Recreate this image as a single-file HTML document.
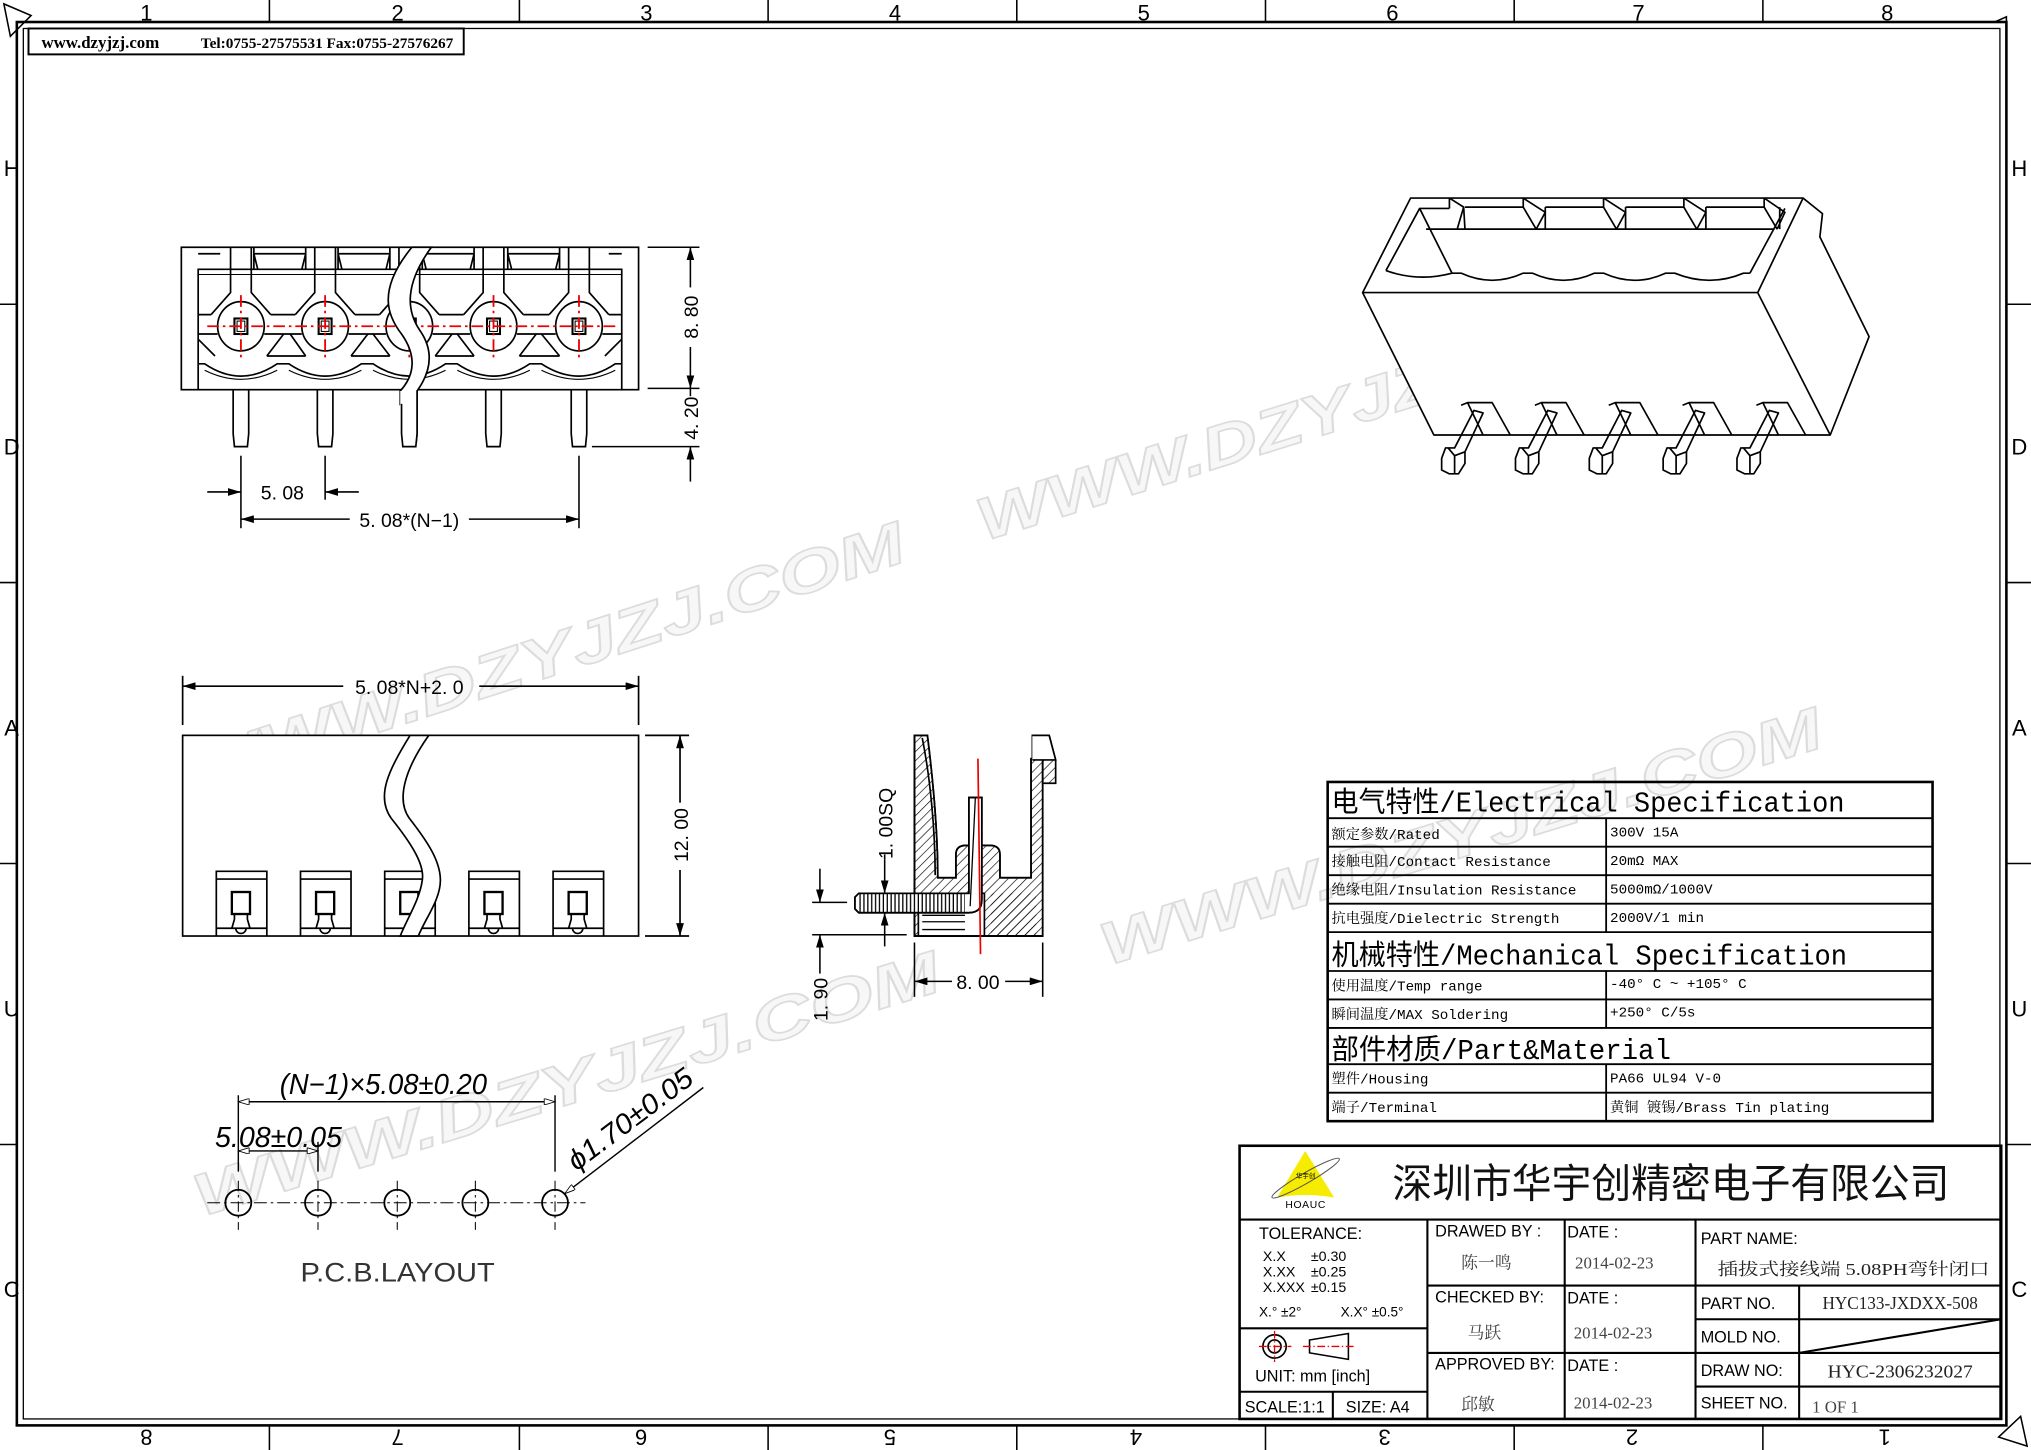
<!DOCTYPE html>
<html><head><meta charset="utf-8"><style>
html,body{margin:0;padding:0;background:#fff;}
svg{display:block;}
.sans{font-family:"Liberation Sans","Noto Sans CJK SC",sans-serif;}
.mono{font-family:"Liberation Mono","Noto Sans CJK SC",monospace;}
.rowt{font-family:"Liberation Mono","Noto Serif CJK SC",monospace;}
.serif{font-family:"Liberation Serif","Noto Serif CJK SC",serif;}
</style></head><body>
<svg width="2031" height="1450" viewBox="0 0 1568 1120" preserveAspectRatio="none" xmlns="http://www.w3.org/2000/svg" class="sans">
<defs>
<marker id="ar" viewBox="0 0 10 6" refX="10" refY="3" markerWidth="10" markerHeight="6" orient="auto-start-reverse" markerUnits="userSpaceOnUse"><path d="M0,0 L10,3 L0,6 Z" fill="#000"/></marker>
<marker id="ao" viewBox="0 0 10 6" refX="10" refY="3" markerWidth="10" markerHeight="5" orient="auto-start-reverse" markerUnits="userSpaceOnUse"><path d="M0,0 L10,3 L0,6 Z" fill="#fff" stroke="#000" stroke-width="0.8"/></marker>
<pattern id="hat" width="5" height="5" patternUnits="userSpaceOnUse" patternTransform="rotate(45)"><line x1="0" y1="0" x2="0" y2="5" stroke="#000" stroke-width="1"/></pattern>
<pattern id="vh" width="3" height="10" patternUnits="userSpaceOnUse"><line x1="1" y1="0" x2="1" y2="10" stroke="#000" stroke-width="1"/></pattern>
</defs>
<rect width="1568" height="1120" fill="#fff"/>

<!-- watermarks -->
<g style="font-family:'Liberation Sans',sans-serif" font-weight="bold" font-style="italic" font-size="46" fill="#f7f7f7" stroke="#dcdcdc" stroke-width="1.3">
<text transform="translate(760,418) rotate(-17.4)" textLength="560" lengthAdjust="spacingAndGlyphs">WWW.DZYJZJ.COM</text>
<text transform="translate(150,612) rotate(-18)" textLength="580" lengthAdjust="spacingAndGlyphs">WWW.DZYJZJ.COM</text>
<text transform="translate(855,746) rotate(-17)" textLength="580" lengthAdjust="spacingAndGlyphs">WWW.DZYJZJ.COM</text>
<text transform="translate(155,940) rotate(-17)" textLength="600" lengthAdjust="spacingAndGlyphs">WWW.DZYJZJ.COM</text>
</g>

<!-- frame -->
<g fill="none" stroke="#000">
<rect x="13" y="17" width="1536" height="1084" stroke-width="2"/>
<rect x="18" y="22" width="1526" height="1074" stroke-width="1"/>
<g stroke-width="1.2">
<line x1="208" y1="0" x2="208" y2="17"/><line x1="401" y1="0" x2="401" y2="17"/><line x1="593" y1="0" x2="593" y2="17"/><line x1="785" y1="0" x2="785" y2="17"/><line x1="977" y1="0" x2="977" y2="17"/><line x1="1169" y1="0" x2="1169" y2="17"/><line x1="1361" y1="0" x2="1361" y2="17"/>
<line x1="208" y1="1101" x2="208" y2="1120"/><line x1="401" y1="1101" x2="401" y2="1120"/><line x1="593" y1="1101" x2="593" y2="1120"/><line x1="785" y1="1101" x2="785" y2="1120"/><line x1="977" y1="1101" x2="977" y2="1120"/><line x1="1169" y1="1101" x2="1169" y2="1120"/><line x1="1361" y1="1101" x2="1361" y2="1120"/>
<line x1="0" y1="235" x2="13" y2="235"/><line x1="0" y1="450" x2="13" y2="450"/><line x1="0" y1="667" x2="13" y2="667"/><line x1="0" y1="884" x2="13" y2="884"/>
<line x1="1549" y1="235" x2="1568" y2="235"/><line x1="1549" y1="450" x2="1568" y2="450"/><line x1="1549" y1="667" x2="1568" y2="667"/><line x1="1549" y1="884" x2="1568" y2="884"/>
<path d="M3,3 L24,12 L8,28 Z"/>
<path d="M1565,1117 L1543,1110 L1560,1094 Z"/>
<path d="M1540,17 L1549,13 L1549,22"/>
</g>
</g>
<g font-size="17" text-anchor="middle" fill="#000">
<text x="113" y="16">1</text><text x="307" y="16">2</text><text x="499" y="16">3</text><text x="691" y="16">4</text><text x="883" y="16">5</text><text x="1075" y="16">6</text><text x="1265" y="16">7</text><text x="1457" y="16">8</text>
<text x="9" y="136">H</text><text x="9" y="351">D</text><text x="9" y="568">A</text><text x="9" y="785">U</text><text x="9" y="1002">C</text>
<text x="1559" y="136">H</text><text x="1559" y="351">D</text><text x="1559" y="568">A</text><text x="1559" y="785">U</text><text x="1559" y="1002">C</text>
<text transform="translate(113,1104) rotate(180)">8</text><text transform="translate(307,1104) rotate(180)">7</text><text transform="translate(495,1104) rotate(180)">6</text><text transform="translate(687,1104) rotate(180)">5</text><text transform="translate(877,1104) rotate(180)">4</text><text transform="translate(1069,1104) rotate(180)">3</text><text transform="translate(1260,1104) rotate(180)">2</text><text transform="translate(1455,1104) rotate(180)">1</text>
</g>

<!-- header -->
<rect x="22" y="22" width="336" height="20" fill="#fff" stroke="#000" stroke-width="1.5"/>
<text x="32" y="37" class="serif" font-weight="bold" font-size="13">www.dzyjzj.com</text>
<text x="155" y="37" class="serif" font-weight="bold" font-size="11" textLength="195" lengthAdjust="spacingAndGlyphs">Tel:0755-27575531  Fax:0755-27576267</text>

<!-- FRONT VIEW -->
<g fill="none" stroke="#000" stroke-width="1.3">
<rect x="140" y="191" width="353" height="110" fill="#fff"/>
<polyline points="153,301 153,208 480,208 480,301"/>
<line x1="153" y1="212" x2="480" y2="212" stroke-width="0.8"/>
<path d="M196,191 V208 M236,191 V208 M196,196 H236 M196,196 L199,208 M236,196 L233,208"/>
<path d="M261,191 V208 M301,191 V208 M261,196 H301 M261,196 L264,208 M301,196 L298,208"/>
<path d="M326,191 V208 M366,191 V208 M326,196 H366 M326,196 L329,208 M366,196 L363,208"/>
<path d="M392,191 V208 M432,191 V208 M392,196 H432 M392,196 L395,208 M432,196 L429,208"/>
<path d="M153,196 H170 M470,196 H480"/>
<!-- pin 186 -->
<path d="M178,191 V226 L163,243 M194,191 V226 L209,243"/>
<ellipse cx="186" cy="252" rx="18" ry="19"/>
<rect x="181" y="246" width="10" height="12" stroke-width="1.6"/><rect x="183" y="248" width="6" height="8" stroke-width="0.8"/>
<path d="M180,301 V335 L181,345 H191 L192,335 V301"/>
<path d="M243,191 V226 L228,243 M259,191 V226 L274,243"/>
<ellipse cx="251" cy="252" rx="18" ry="19"/>
<rect x="246" y="246" width="10" height="12" stroke-width="1.6"/><rect x="248" y="248" width="6" height="8" stroke-width="0.8"/>
<path d="M245,301 V335 L246,345 H256 L257,335 V301"/>
<path d="M308,191 V226 L293,243 M324,191 V226 L339,243"/>
<ellipse cx="316" cy="252" rx="18" ry="19"/>
<rect x="311" y="246" width="10" height="12" stroke-width="1.6"/>
<path d="M310,301 V335 L311,345 H321 L322,335 V301"/>
<path d="M373,191 V226 L358,243 M389,191 V226 L404,243"/>
<ellipse cx="381" cy="252" rx="18" ry="19"/>
<rect x="376" y="246" width="10" height="12" stroke-width="1.6"/><rect x="378" y="248" width="6" height="8" stroke-width="0.8"/>
<path d="M375,301 V335 L376,345 H386 L387,335 V301"/>
<path d="M439,191 V226 L424,243 M455,191 V226 L470,243"/>
<ellipse cx="447" cy="252" rx="18" ry="19"/>
<rect x="442" y="246" width="10" height="12" stroke-width="1.6"/><rect x="444" y="248" width="6" height="8" stroke-width="0.8"/>
<path d="M441,301 V335 L442,345 H452 L453,335 V301"/>
<path d="M153,243 H163 M209,243 H228 M274,243 H293 M339,243 H358 M404,243 H424 M470,243 H480"/>
<path d="M153,258 H168 M204,258 H233 M269,258 H298 M334,258 H363 M399,258 H429 M465,258 H480"/>
<path d="M153,262 L166,275 M206,275 L219,258 M224,258 L236,275 M206,275 H236"/>
<path d="M271,275 L284,258 M288,258 L301,275 M271,275 H301"/>
<path d="M336,275 L349,258 M353,258 L366,275 M336,275 H366"/>
<path d="M401,275 L414,258 M418,258 L432,275 M401,275 H432"/>
<path d="M467,275 L480,262"/>
<path d="M153,281 H158 Q186,300 214,281 H223 Q251,300 279,281 H288 Q316,300 344,281 H353 Q381,300 409,281 H418 Q447,300 475,281 H480"/>
<path d="M158,286 Q186,300 214,286 M223,286 Q251,300 279,286 M288,286 Q316,300 344,286 M353,286 Q381,300 409,286 M418,286 Q447,300 475,286" stroke-width="0.9"/>
</g>
<g stroke="#e00" stroke-width="1.4" stroke-dasharray="9,3,2,3" fill="none">
<line x1="160" y1="252" x2="475" y2="252"/>
<line x1="186" y1="228" x2="186" y2="276"/><line x1="251" y1="228" x2="251" y2="276"/><line x1="316" y1="228" x2="316" y2="276"/><line x1="381" y1="228" x2="381" y2="276"/><line x1="447" y1="228" x2="447" y2="276"/>
</g>
<path d="M318,191 C290,225 300,245 310,258 C322,275 320,290 309,302 L309,312 L322,302 C332,288 336,272 324,255 C314,240 312,220 333,191 Z" fill="#fff" stroke="#000" stroke-width="1.3"/>
<rect x="309" y="302" width="13" height="44" fill="#fff" stroke="none"/>
<path d="M310,312 V335 L311,345 H321 L322,335 V302" fill="none" stroke="#000" stroke-width="1.3"/>
<g stroke="#000" stroke-width="1.2" fill="none">
<line x1="500" y1="191" x2="540" y2="191"/><line x1="500" y1="300" x2="540" y2="300"/><line x1="457" y1="345" x2="540" y2="345"/>
<line x1="533" y1="222" x2="533" y2="191" marker-end="url(#ar)"/><line x1="533" y1="268" x2="533" y2="300" marker-end="url(#ar)"/>
<line x1="533" y1="300" x2="533" y2="306"/><line x1="533" y1="372" x2="533" y2="345" marker-end="url(#ar)"/>
<line x1="186" y1="352" x2="186" y2="408"/><line x1="251" y1="352" x2="251" y2="386"/><line x1="447" y1="352" x2="447" y2="408"/>
<line x1="160" y1="380" x2="186" y2="380" marker-end="url(#ar)"/><line x1="277" y1="380" x2="251" y2="380" marker-end="url(#ar)"/>
<line x1="270" y1="401" x2="186" y2="401" marker-end="url(#ar)"/><line x1="362" y1="401" x2="447" y2="401" marker-end="url(#ar)"/>
</g>
<g font-size="15" fill="#000">
<text transform="translate(539,245) rotate(-90)" text-anchor="middle">8. 80</text>
<text transform="translate(539,323) rotate(-90)" text-anchor="middle">4. 20</text>
<text x="218" y="386" text-anchor="middle">5. 08</text>
<text x="316" y="407" text-anchor="middle">5. 08*(N−1)</text>
</g>

<!-- TOP VIEW -->
<g fill="none" stroke="#000" stroke-width="1.3">
<rect x="141" y="568" width="352" height="155" fill="#fff"/>
<line x1="141" y1="522" x2="141" y2="560"/><line x1="493" y1="522" x2="493" y2="560"/>
<line x1="265" y1="530" x2="141" y2="530" marker-end="url(#ar)"/><line x1="370" y1="530" x2="493" y2="530" marker-end="url(#ar)"/>
<line x1="498" y1="568" x2="532" y2="568"/><line x1="498" y1="723" x2="532" y2="723"/>
<line x1="525" y1="620" x2="525" y2="568" marker-end="url(#ar)"/><line x1="525" y1="672" x2="525" y2="723" marker-end="url(#ar)"/>
<path d="M167,723 V673 H206 V723 M167,679 H206 M167,717 H206"/><rect x="179" y="689" width="14" height="17" stroke-width="1.8"/><path d="M181,706 V710 L179,717 M191,706 V710 L193,717 M182,717 A4,4 0 0 0 190,717"/>
<path d="M232,723 V673 H271 V723 M232,679 H271 M232,717 H271"/><rect x="244" y="689" width="14" height="17" stroke-width="1.8"/><path d="M246,706 V710 L244,717 M256,706 V710 L258,717 M247,717 A4,4 0 0 0 255,717"/>
<path d="M297,723 V673 H336 V723 M297,679 H336 M297,717 H336"/><rect x="309" y="689" width="14" height="17" stroke-width="1.8"/>
<path d="M362,723 V673 H401 V723 M362,679 H401 M362,717 H401"/><rect x="374" y="689" width="14" height="17" stroke-width="1.8"/><path d="M376,706 V710 L374,717 M386,706 V710 L388,717 M377,717 A4,4 0 0 0 385,717"/>
<path d="M427,723 V673 H466 V723 M427,679 H466 M427,717 H466"/><rect x="439" y="689" width="14" height="17" stroke-width="1.8"/><path d="M441,706 V710 L439,717 M451,706 V710 L453,717 M442,717 A4,4 0 0 0 450,717"/>
<path d="M316.6,568 C300,595 290,615 302,632 C318,652 328,668 326,680 C324,695 314,710 309,723 L323,723 C328,710 340,695 340,680 C340,665 330,650 316,632 C306,618 312,595 331,568 Z" fill="#fff" stroke-width="1.3"/>
</g>
<text transform="translate(531,645) rotate(-90)" text-anchor="middle" font-size="15">12. 00</text>
<text x="316" y="536" text-anchor="middle" font-size="15">5. 08*N+2. 0</text>

<!-- SECTION VIEW -->
<g stroke="#000" stroke-width="1.3">
<path d="M706,568 H716 C720,600 724,640 724,678 H738 V660 Q738,653 746,653 H764 Q772,653 772,660 V678 H796 V586 H805 V723 H706 Z" fill="url(#hat)"/>
<path d="M706,568 H716 C720,600 724,640 724,678 H738 V660 Q738,653 746,653 H764 Q772,653 772,660 V678 H796 V586 H805 V723 H706 Z" fill="none"/>
<path d="M797,586 V568 H810 L815,587 V605 H805 V586 Z" fill="url(#hat)"/>
<path d="M797,568 H810 L815,587 H797" fill="#fff"/>
<path d="M709,690 H760 V723 H709 Z" fill="#fff"/>
<path d="M709,690 H745 M712,707 H745 M712,712 H745 M712,718 H745" fill="none" stroke-width="1"/>
<path d="M765,690 H800 V723 H765 Z" fill="url(#hat)" stroke="none"/>
<path d="M706,568 V723 H805" fill="none"/>
<path d="M712,570 C718,600 722,640 722,676" fill="none"/>
<path d="M660,693 L663,690 H748 V616 H758 V695 Q758,705 748,705 H663 L660,702 Z" fill="#fff"/>
<rect x="663" y="690" width="82" height="15" fill="url(#vh)" stroke="none"/>
<path d="M660,693 L663,690 H748 V616 H758 V695 Q758,705 748,705 H663 L660,702 Z" fill="none"/>
<line x1="753" y1="616" x2="749" y2="700" stroke-width="1"/>
</g>
<line x1="755" y1="586" x2="757" y2="737" stroke="#e00" stroke-width="1.3"/>
<g stroke="#000" stroke-width="1.2" fill="none">
<line x1="706" y1="728" x2="706" y2="770"/><line x1="805" y1="728" x2="805" y2="770"/>
<line x1="735" y1="758" x2="706" y2="758" marker-end="url(#ar)"/><line x1="776" y1="758" x2="805" y2="758" marker-end="url(#ar)"/>
<line x1="683" y1="664" x2="683" y2="690" marker-end="url(#ar)"/><line x1="683" y1="731" x2="683" y2="705" marker-end="url(#ar)"/>
<line x1="683" y1="660" x2="683" y2="664"/>
<line x1="627" y1="697" x2="654" y2="697"/><line x1="627" y1="722" x2="700" y2="722"/>
<line x1="633" y1="671" x2="633" y2="697" marker-end="url(#ar)"/><line x1="633" y1="752" x2="633" y2="722" marker-end="url(#ar)"/>
</g>
<g font-size="15">
<text x="755" y="764" text-anchor="middle">8. 00</text>
<text transform="translate(689,636) rotate(-90)" text-anchor="middle">1. 00SQ</text>
<text transform="translate(639,772) rotate(-90)" text-anchor="middle">1. 90</text>
</g>

<!-- PCB LAYOUT -->
<g stroke="#000" fill="none">
<line x1="160" y1="929" x2="452" y2="929" stroke-width="0.8" stroke-dasharray="10,3,2,3"/>
<g stroke-width="0.8" stroke-dasharray="8,3,2,3">
<line x1="184" y1="912" x2="184" y2="950"/><line x1="245.5" y1="912" x2="245.5" y2="950"/><line x1="306.7" y1="912" x2="306.7" y2="950"/><line x1="367" y1="912" x2="367" y2="950"/><line x1="428.5" y1="912" x2="428.5" y2="950"/>
</g>
<g stroke-width="1.4"><circle cx="184" cy="929" r="10"/><circle cx="245.5" cy="929" r="10"/><circle cx="306.7" cy="929" r="10"/><circle cx="367" cy="929" r="10"/><circle cx="428.5" cy="929" r="10"/></g>
<g stroke-width="1.1">
<line x1="184" y1="846" x2="184" y2="905"/><line x1="428.5" y1="846" x2="428.5" y2="905"/><line x1="245.5" y1="882" x2="245.5" y2="905"/>
<line x1="300" y1="851" x2="184" y2="851" marker-end="url(#ao)"/><line x1="300" y1="851" x2="428.5" y2="851" marker-end="url(#ao)"/>
<line x1="214" y1="889" x2="184" y2="889" marker-end="url(#ao)"/><line x1="214" y1="889" x2="245.5" y2="889" marker-end="url(#ao)"/>
<line x1="543" y1="840" x2="436" y2="922" marker-end="url(#ao)"/>
</g>
</g>
<g font-style="italic" font-size="22" fill="#000">
<text x="296" y="845" text-anchor="middle" textLength="160" lengthAdjust="spacingAndGlyphs">(N−1)×5.08±0.20</text>
<text x="166" y="886" textLength="98" lengthAdjust="spacingAndGlyphs">5.08±0.05</text>
<text transform="translate(445,905) rotate(-37)" textLength="115" lengthAdjust="spacingAndGlyphs">ϕ1.70±0.05</text>
</g>
<text x="232" y="990" font-size="21" fill="#333" textLength="150" lengthAdjust="spacingAndGlyphs">P.C.B.LAYOUT</text>

<!-- 3D VIEW -->
<g fill="none" stroke="#000" stroke-width="1.3" stroke-linejoin="round">
<path d="M1052,226 L1089,153 H1392 L1407,165 L1405,183 L1443,260 L1413,336 H1107 Z" fill="#fff"/>
<path d="M1052,226 H1357 L1392,153 M1357,226 L1413,336"/>
<path d="M1070,209 L1096,161 H1119 M1101,177 H1370 M1096,161 L1121,211 M1378,161 L1351,211"/>
<path d="M1070,209 Q1095,218 1121,211 H1128 Q1152,222 1176,211 H1183 Q1207,222 1231,211 H1238 Q1262,222 1286,211 H1293 Q1320,222 1346,211 H1351"/>
<path d="M1119,153 L1130,160 L1125,177 M1119,153 L1119,161"/>
<path d="M1130,160 L1131,177 M1131,160 H1176 L1186,177 M1176,153 L1176,160 M1186,177 L1193,164 L1176,153"/>
<path d="M1193,160 V177 M1193,160 H1238 L1248,177 M1238,153 V160 M1248,177 L1255,164 L1238,153"/>
<path d="M1255,160 V177 M1255,160 H1300 L1310,177 M1300,153 V160 M1310,177 L1317,164 L1300,153"/>
<path d="M1317,160 V177 M1317,160 H1362 L1372,177 M1362,153 V160 M1372,177 L1378,164 L1362,153 M1374,160 V177"/>
<g id="p3d">
<path d="M1128,313 L1133,311 H1152 L1166,336 M1133,311 L1145,336 M1138,317 L1123,346 L1116,346 L1113,354 V363 L1119,366 H1126 L1131,358 V349 L1145,319 Z M1118,346 L1123,352 L1131,349 M1123,352 V366"/>
</g>
<use href="#p3d" transform="translate(57,0)"/>
<use href="#p3d" transform="translate(114,0)"/>
<use href="#p3d" transform="translate(171,0)"/>
<use href="#p3d" transform="translate(228,0)"/>
</g>

<!-- SPEC TABLE -->
<g fill="none" stroke="#000">
<rect x="1025" y="604" width="467" height="262" stroke-width="2"/>
<g stroke-width="1.4">
<line x1="1025" y1="632" x2="1492" y2="632"/><line x1="1025" y1="654" x2="1492" y2="654"/><line x1="1025" y1="676" x2="1492" y2="676"/><line x1="1025" y1="698" x2="1492" y2="698"/><line x1="1025" y1="720" x2="1492" y2="720"/>
<line x1="1025" y1="750" x2="1492" y2="750"/><line x1="1025" y1="772" x2="1492" y2="772"/><line x1="1025" y1="794" x2="1492" y2="794"/><line x1="1025" y1="822" x2="1492" y2="822"/><line x1="1025" y1="844" x2="1492" y2="844"/>
<line x1="1240" y1="632" x2="1240" y2="720"/><line x1="1240" y1="750" x2="1240" y2="794"/><line x1="1240" y1="822" x2="1240" y2="866"/>
</g>
</g>
<g fill="#000" font-size="22">
<text x="1028" y="627" class="mono" textLength="396" lengthAdjust="spacingAndGlyphs">电气特性/Electrical Specification</text>
<text x="1028" y="745" class="mono" textLength="398" lengthAdjust="spacingAndGlyphs">机械特性/Mechanical Specification</text>
<text x="1028" y="818" class="mono" textLength="262" lengthAdjust="spacingAndGlyphs">部件材质/Part&amp;Material</text>
</g>
<g fill="#000" font-size="11">
<text class="rowt" x="1028" y="648">额定参数/Rated</text><text class="rowt" x="1243" y="646">300V  15A</text>
<text class="rowt" x="1028" y="669">接触电阻/Contact Resistance</text><text class="rowt" x="1243" y="668">20mΩ MAX</text>
<text class="rowt" x="1028" y="691">绝缘电阻/Insulation Resistance</text><text class="rowt" x="1243" y="690">5000mΩ/1000V</text>
<text class="rowt" x="1028" y="713">抗电强度/Dielectric Strength</text><text class="rowt" x="1243" y="712">2000V/1 min</text>
<text class="rowt" x="1028" y="765">使用温度/Temp range</text><text class="rowt" x="1243" y="763">-40° C ~ +105° C</text>
<text class="rowt" x="1028" y="787">瞬间温度/MAX Soldering</text><text class="rowt" x="1243" y="785">+250° C/5s</text>
<text class="rowt" x="1028" y="837">塑件/Housing</text><text class="rowt" x="1243" y="836">PA66 UL94 V-0</text>
<text class="rowt" x="1028" y="859">端子/Terminal</text><text class="rowt" x="1243" y="859">黄铜 镀锡/Brass Tin plating</text>
</g>

<!-- TITLE BLOCK -->
<g fill="none" stroke="#000">
<rect x="957" y="885" width="588" height="211" stroke-width="2"/>
<g stroke-width="1.6">
<line x1="957" y1="942" x2="1545" y2="942"/>
<line x1="1102" y1="942" x2="1102" y2="1096"/><line x1="1208" y1="942" x2="1208" y2="1096"/><line x1="1309" y1="942" x2="1309" y2="1096"/>
<line x1="1102" y1="993" x2="1309" y2="993"/><line x1="1102" y1="1045" x2="1309" y2="1045"/>
<line x1="1309" y1="993" x2="1545" y2="993"/><line x1="1309" y1="1019" x2="1545" y2="1019"/><line x1="1309" y1="1045" x2="1545" y2="1045"/><line x1="1309" y1="1071" x2="1545" y2="1071"/>
<line x1="1389" y1="993" x2="1389" y2="1096"/>
<line x1="1389" y1="1045" x2="1545" y2="1019"/>
<line x1="957" y1="1026" x2="1102" y2="1026"/><line x1="957" y1="1075" x2="1102" y2="1075"/><line x1="1029" y1="1075" x2="1029" y2="1096"/>
</g>
<circle cx="984" cy="1040" r="9" stroke-width="1.3"/><circle cx="984" cy="1040" r="5" stroke-width="1.3"/>
<path d="M1011,1035 L1041,1030 V1050 L1011,1045 Z" stroke-width="1.2"/>
</g>
<g stroke="#e00" stroke-width="1" stroke-dasharray="6,2,1,2"><line x1="972" y1="1040" x2="997" y2="1040"/><line x1="984" y1="1028" x2="984" y2="1052"/><line x1="1006" y1="1040" x2="1046" y2="1040"/></g>
<path d="M1007.7,889 L986,925 Q1008,921 1030,925 Z" fill="#f5ec00"/>
<ellipse cx="1008" cy="910" rx="30" ry="4" transform="rotate(-30 1008 910)" fill="none" stroke="#555" stroke-width="0.8"/>
<text x="1008" y="910" font-size="5" text-anchor="middle" fill="#000">华宇创</text>
<text x="1008" y="933" font-size="8" text-anchor="middle" fill="#000" letter-spacing="0.5">HOAUC</text>
<text x="1075" y="925" font-size="31" fill="#111" textLength="430" lengthAdjust="spacingAndGlyphs">深圳市华宇创精密电子有限公司</text>
<g font-size="12.5" fill="#000">
<text x="972" y="957">TOLERANCE:</text>
<text x="975" y="974" font-size="11">X.X</text><text x="1012" y="974" font-size="11">±0.30</text>
<text x="975" y="986" font-size="11">X.XX</text><text x="1012" y="986" font-size="11">±0.25</text>
<text x="975" y="998" font-size="11">X.XXX</text><text x="1012" y="998" font-size="11">±0.15</text>
<text x="972" y="1017" font-size="10.5">X.° ±2°</text><text x="1035" y="1017" font-size="10.5">X.X° ±0.5°</text>
<text x="969" y="1067">UNIT:  mm  [inch]</text>
<text x="961" y="1091">SCALE:1:1</text><text x="1039" y="1091">SIZE:  A4</text>
<text x="1108" y="955">DRAWED  BY  :</text>
<text x="1108" y="1006">CHECKED  BY:</text>
<text x="1108" y="1058">APPROVED  BY:</text>
<text x="1210" y="956">DATE  :</text><text x="1210" y="1007">DATE  :</text><text x="1210" y="1059">DATE  :</text>
<text x="1313" y="961">PART  NAME:</text>
<text x="1313" y="1011">PART  NO.</text><text x="1313" y="1037">MOLD  NO.</text><text x="1313" y="1063">DRAW  NO:</text><text x="1313" y="1088">SHEET  NO.</text>
</g>
<g fill="#444" font-size="13">
<text class="serif" x="1128" y="980">陈一鸣</text>
<text class="serif" x="1133" y="1034">马跃</text>
<text class="serif" x="1128" y="1089">邱敏</text>
<text class="serif" x="1216" y="980">2014-02-23</text><text class="serif" x="1215" y="1034">2014-02-23</text><text class="serif" x="1215" y="1088">2014-02-23</text>
<text class="serif" x="1326" y="985" fill="#222" textLength="210" lengthAdjust="spacingAndGlyphs">插拔式接线端 5.08PH弯针闭口</text>
<text class="serif" x="1467" y="1011" fill="#222" font-size="14" text-anchor="middle" textLength="120" lengthAdjust="spacingAndGlyphs">HYC133-JXDXX-508</text>
<text class="serif" x="1467" y="1064" fill="#222" font-size="14" text-anchor="middle" textLength="112" lengthAdjust="spacingAndGlyphs">HYC-2306232027</text>
<text class="serif" x="1399" y="1091">1 OF 1</text>
</g>
</svg>
</body></html>
